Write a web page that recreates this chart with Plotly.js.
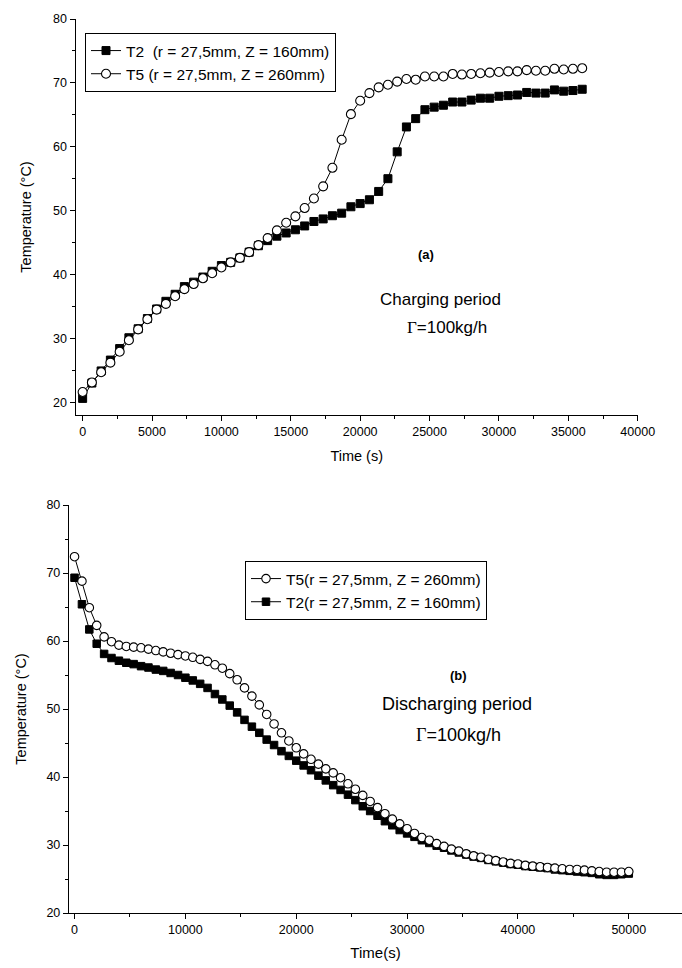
<!DOCTYPE html>
<html>
<head>
<meta charset="utf-8">
<script src="https://cdn.plot.ly/plotly-3.0.1.min.js"></script>
<style>html,body{margin:0;padding:0;background:#fff}#chart{width:682px;height:968px}</style>
</head>
<body>
<div id="chart"></div>
<script>
// ---- (a) Charging period ----
const timeCharge = [0,667,1333,2000,2667,3333,4000,4667,5333,6000,6667,7333,8000,8667,9333,10000,10667,11333,12000,12667,13333,14000,14667,15333,16000,16667,17333,18000,18667,19333,20000,20667,21333,22000,22667,23333,24000,24667,25333,26000,26667,27333,28000,28667,29333,30000,30667,31333,32000,32667,33333,34000,34667,35333,36000];
const chargeT2 = [20.6,23.0,24.9,26.6,28.4,30.1,31.5,33.1,34.6,35.8,36.9,38.1,38.8,39.6,40.5,41.4,41.9,42.6,43.5,44.5,45.3,46.0,46.5,47.0,47.6,48.3,48.7,49.2,49.6,50.6,51.1,51.7,53.0,55.0,59.2,63.1,64.4,65.8,66.2,66.5,67.0,67.0,67.3,67.6,67.6,67.9,68.0,68.1,68.5,68.4,68.4,68.9,68.7,68.8,69.0];
const chargeT5 = [21.6,23.1,24.7,26.2,27.9,29.7,31.4,33.0,34.5,35.4,36.6,37.7,38.5,39.4,40.2,41.1,41.9,42.6,43.5,44.6,45.7,46.9,48.1,49.1,50.4,51.9,53.8,56.7,61.1,65.1,67.2,68.4,69.3,69.7,70.2,70.6,70.5,71.0,71.0,71.0,71.4,71.3,71.4,71.5,71.6,71.7,71.8,71.8,72.0,71.9,71.9,72.2,72.1,72.2,72.3];

// ---- (b) Discharging period ----
const timeDischarge = [0,667,1333,2000,2667,3333,4000,4667,5333,6000,6667,7333,8000,8667,9333,10000,10667,11333,12000,12667,13333,14000,14667,15333,16000,16667,17333,18000,18667,19333,20000,20667,21333,22000,22667,23333,24000,24667,25333,26000,26667,27333,28000,28667,29333,30000,30667,31333,32000,32667,33333,34000,34667,35333,36000,36667,37333,38000,38667,39333,40000,40667,41333,42000,42667,43333,44000,44667,45333,46000,46667,47333,48000,48667,49333,50000];
const dischargeT5 = [72.4,68.8,64.9,62.3,60.6,59.9,59.4,59.2,59.1,59.0,58.8,58.6,58.4,58.2,58.0,57.8,57.6,57.3,57.0,56.5,56.0,55.2,54.3,53.1,51.9,50.6,49.2,47.8,46.5,45.3,44.3,43.4,42.6,41.9,41.2,40.6,39.9,39.0,38.2,37.3,36.4,35.5,34.6,33.8,33.1,32.4,31.7,31.1,30.7,30.2,29.8,29.4,29.1,28.7,28.4,28.2,27.9,27.7,27.5,27.3,27.2,27.0,26.9,26.8,26.7,26.6,26.5,26.4,26.4,26.3,26.2,26.1,26.0,26.0,26.0,26.1];
const dischargeT2 = [69.3,65.4,61.7,59.6,58.1,57.5,57.1,56.8,56.6,56.3,56.1,55.8,55.6,55.3,55.0,54.6,54.2,53.7,53.1,52.2,51.4,50.5,49.5,48.4,47.4,46.5,45.5,44.7,43.8,43.1,42.4,41.7,41.0,40.2,39.5,38.8,38.1,37.4,36.6,35.7,35.0,34.3,33.5,32.9,32.2,31.7,31.2,30.7,30.3,29.9,29.6,29.2,28.9,28.6,28.3,28.1,27.8,27.6,27.4,27.2,27.1,26.9,26.8,26.7,26.6,26.4,26.3,26.2,26.1,26.0,25.9,25.7,25.6,25.6,25.7,25.8];

const legendA = ['T2  (r = 27,5mm, Z = 160mm)', 'T5 (r = 27,5mm, Z = 260mm)'];
const legendB = ['T5(r = 27,5mm, Z = 260mm)', 'T2(r = 27,5mm, Z = 160mm)'];

const FONT = 'Liberation Sans, Arial, sans-serif';
const lineStyle = {color: '#000', width: 1};
const sq = (s) => ({symbol: 'square', size: s, color: '#000', line: {color: '#000', width: 1}});
const wc = (s) => ({symbol: 'circle', size: s, color: '#fff', line: {color: '#000', width: 1.1}});

const traces = [
  {x: timeCharge, y: chargeT2, name: legendA[0], mode: 'lines+markers', line: lineStyle, marker: sq(8), xaxis: 'x', yaxis: 'y', legend: 'legend'},
  {x: timeCharge, y: chargeT5, name: legendA[1], mode: 'lines+markers', line: lineStyle, marker: wc(9), xaxis: 'x', yaxis: 'y', legend: 'legend'},
  {x: timeDischarge, y: dischargeT2, name: legendB[1], mode: 'lines+markers', line: lineStyle, marker: sq(7.5), xaxis: 'x2', yaxis: 'y2', legend: 'legend2', legendrank: 2},
  {x: timeDischarge, y: dischargeT5, name: legendB[0], mode: 'lines+markers', line: lineStyle, marker: wc(8.5), xaxis: 'x2', yaxis: 'y2', legend: 'legend2', legendrank: 1}
];

const axBase = {
  showline: true, linecolor: '#000', linewidth: 1.2, ticks: 'outside', ticklen: 5, tickwidth: 1, tickcolor: '#000',
  showgrid: false, zeroline: false, mirror: false, automargin: false,
  tickformat: 'd', exponentformat: 'none',
  tickfont: {family: FONT, size: 12.5, color: '#000'}
};

const layout = {
  width: 682, height: 968,
  margin: {l: 0, r: 0, t: 0, b: 0},
  paper_bgcolor: '#fff', plot_bgcolor: '#fff',
  font: {family: FONT, color: '#000'},
  showlegend: true,
  xaxis: Object.assign({}, axBase, {
    domain: [75.7/682, 637.7/682], range: [-500, 40000], anchor: 'y',
    tickmode: 'linear', tick0: 0, dtick: 5000,
    minor: {ticks: 'outside', ticklen: 3, dtick: 2500, tick0: 0, tickcolor: '#000'},
    title: {text: 'Time (s)', font: {family: FONT, size: 14.5}, standoff: 12}
  }),
  yaxis: Object.assign({}, axBase, {
    domain: [1 - 415/968, 1 - 19/968], range: [18, 80], anchor: 'x',
    tickmode: 'linear', tick0: 20, dtick: 10,
    minor: {ticks: 'outside', ticklen: 3, dtick: 5, tick0: 0, tickcolor: '#000'},
    title: {text: 'Temperature (°C)', font: {family: FONT, size: 14.5}, standoff: 18}
  }),
  xaxis2: Object.assign({}, axBase, {
    domain: [69/682, 1], range: [-500, 54800], anchor: 'y2',
    tickmode: 'linear', tick0: 0, dtick: 10000,
    minor: {ticks: 'outside', ticklen: 3, dtick: 5000, tick0: 0, tickcolor: '#000'},
    title: {text: 'Time(s)', font: {family: FONT, size: 15}, standoff: 11}
  }),
  yaxis2: Object.assign({}, axBase, {
    domain: [1 - 913/968, 1 - 505/968], range: [20, 80], anchor: 'x2',
    tickmode: 'linear', tick0: 20, dtick: 10,
    minor: {ticks: 'outside', ticklen: 3, dtick: 5, tick0: 0, tickcolor: '#000'},
    title: {text: 'Temperature (°C)', font: {family: FONT, size: 14.5}, standoff: 16}
  }),
  legend: {
    x: 85/682, y: 1 - 33/968, xanchor: 'left', yanchor: 'top',
    bordercolor: '#000', borderwidth: 1, bgcolor: '#fff',
    font: {family: FONT, size: 15.5, color: '#000'},
    tracegroupgap: 0, itemwidth: 30
  },
  legend2: {
    x: 245/682, y: 1 - 561/968, xanchor: 'left', yanchor: 'top',
    bordercolor: '#000', borderwidth: 1, bgcolor: '#fff',
    font: {family: FONT, size: 15.5, color: '#000'},
    tracegroupgap: 0, itemwidth: 30, traceorder: 'normal'
  },
  annotations: [
    {xref: 'paper', yref: 'paper', x: 426/682, y: 1 - 254/968, xanchor: 'center', yanchor: 'middle', text: '<b>(a)</b>', showarrow: false, font: {family: FONT, size: 13}},
    {xref: 'paper', yref: 'paper', x: 440/682, y: 1 - 300/968, xanchor: 'center', yanchor: 'middle', text: 'Charging period', showarrow: false, font: {family: FONT, size: 17}},
    {xref: 'paper', yref: 'paper', x: 447/682, y: 1 - 327/968, xanchor: 'center', yanchor: 'middle', text: '<span style="font-family:Liberation Serif,Times New Roman,serif">Γ</span>=100kg/h', showarrow: false, font: {family: FONT, size: 17}},
    {xref: 'paper', yref: 'paper', x: 458/682, y: 1 - 675/968, xanchor: 'center', yanchor: 'middle', text: '<b>(b)</b>', showarrow: false, font: {family: FONT, size: 13}},
    {xref: 'paper', yref: 'paper', x: 457/682, y: 1 - 704/968, xanchor: 'center', yanchor: 'middle', text: 'Discharging period', showarrow: false, font: {family: FONT, size: 18}},
    {xref: 'paper', yref: 'paper', x: 458/682, y: 1 - 735/968, xanchor: 'center', yanchor: 'middle', text: '<span style="font-family:Liberation Serif,Times New Roman,serif">Γ</span>=100kg/h', showarrow: false, font: {family: FONT, size: 18}}
  ]
};

Plotly.newPlot('chart', traces, layout, {displayModeBar: false, staticPlot: true});
</script>
</body>
</html>
